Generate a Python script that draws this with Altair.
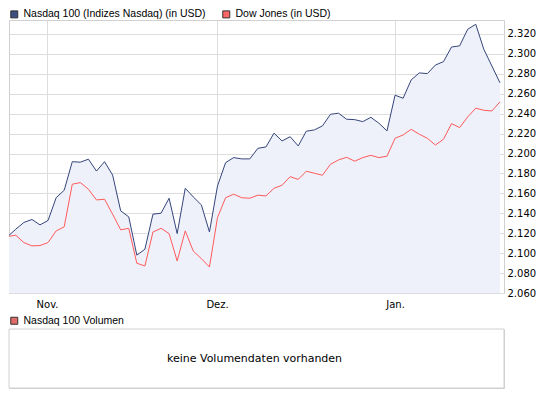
import json
import altair as alt
import pandas as pd

# Values (trading-day index 0..61)
nasdaq = [2116.7, 2124.0, 2130.8, 2133.8, 2128.4, 2132.8, 2155.6, 2163.1, 2191.8, 2191.3,
          2194.3, 2182.4, 2191.8, 2178.4, 2142.5, 2136.4, 2098.0, 2103.9, 2139.1, 2140.1,
          2155.1, 2119.6, 2165.1, 2156.4, 2148.4, 2121.3, 2167.5, 2190.8, 2195.9, 2194.6,
          2194.6, 2205.2, 2206.6, 2220.4, 2212.6, 2216.9, 2207.6, 2222.4, 2223.7, 2227.7,
          2239.4, 2240.4, 2234.4, 2234.0, 2232.0, 2236.3, 2230.4, 2222.7, 2258.5, 2255.5,
          2273.9, 2280.9, 2280.2, 2288.8, 2292.2, 2306.9, 2308.0, 2324.7, 2329.7, 2304.6,
          2287.8, 2271.0]
dow = [2116.7, 2118.0, 2110.6, 2107.3, 2107.6, 2110.6, 2122.3, 2126.4, 2169.2, 2170.8,
       2164.2, 2153.4, 2154.1, 2139.1, 2123.4, 2124.9, 2089.9, 2087.1, 2121.3, 2124.9,
       2119.6, 2092.1, 2122.3, 2102.0, 2094.5, 2086.1, 2135.8, 2155.6, 2159.2, 2155.6,
       2155.1, 2158.2, 2157.4, 2165.1, 2168.2, 2176.8, 2174.0, 2182.2, 2180.2, 2178.2,
       2189.2, 2193.6, 2196.2, 2192.3, 2195.9, 2198.2, 2195.9, 2197.3, 2215.3, 2218.6,
       2224.3, 2219.4, 2215.3, 2208.5, 2214.3, 2230.0, 2226.0, 2236.7, 2245.5, 2243.4,
       2242.7, 2251.8]

series_names = ["Nasdaq 100 (Indizes Nasdaq) (in USD)", "Dow Jones (in USD)"]
line_colors = ["#35457a", "#ff5a5a"]
legend_fills = ["#3d4f80", "#ff6666"]
month_pos = [4.87, 25.94, 48.0]
month_labels = ["Nov.", "Dez.", "Jan."]
y_ticks = list(range(2060, 2321, 20))
volume_name = "Nasdaq 100 Volumen"
volume_color = "#e06c68"
volume_msg = "keine Volumendaten vorhanden"

n = len(nasdaq)
idx = list(range(n))
wide = pd.DataFrame({"i": idx, "nasdaq": nasdaq})
long = pd.DataFrame({
    "i": idx + idx,
    "value": nasdaq + dow,
    "series": [series_names[0]] * n + [series_names[1]] * n,
})

x_scale = alt.Scale(domain=[0.16, 61.5], nice=False, zero=False)
y_scale = alt.Scale(domain=[2060, 2334], nice=False, zero=False)

x_axis = alt.Axis(
    values=month_pos, grid=True, gridColor="#dddddd", ticks=False, tickSize=0,
    domain=False, labelPadding=6, labelFont="DejaVu Sans", labelFontSize=10,
    labelColor="#000000", title=None, labelOverlap=False,
    labelExpr=f"{json.dumps(month_labels)}[indexof({json.dumps(month_pos)}, datum.value)]",
)
y_axis = alt.Axis(
    orient="right", values=y_ticks, grid=True, gridColor="#dddddd", ticks=False,
    tickSize=0, domain=False, labelPadding=3, labelFont="DejaVu Sans",
    labelFontSize=10, labelColor="#000000", title=None, labelOverlap=False,
    labelBound=False, labelExpr="replace(format(datum.value, ','), ',', '.')",
)

X = alt.X("i:Q", scale=x_scale, axis=x_axis)

area = alt.Chart(wide).mark_area(color="#eef1fa", clip=True).encode(
    x=X,
    y=alt.Y("nasdaq:Q", scale=y_scale, axis=y_axis),
)

lines = alt.Chart(long).mark_line(strokeWidth=1, clip=True).encode(
    x=X,
    y=alt.Y("value:Q", scale=y_scale, axis=y_axis),
    stroke=alt.Stroke("series:N", scale=alt.Scale(domain=series_names, range=line_colors), legend=None),
)

legend_top = alt.Legend(
    orient="none", legendX=0, legendY=-11, direction="horizontal", title=None,
    symbolType="square", symbolSize=49, symbolStrokeColor="#333333",
    symbolStrokeWidth=1, symbolOpacity=1, labelFont="Liberation Sans",
    labelFontSize=10.5, labelColor="#000000", columnPadding=14, labelOffset=4,
    padding=0, labelLimit=0,
)
dummy = alt.Chart(long).mark_square(opacity=0, clip=True).encode(
    x=X,
    y=alt.Y("value:Q", scale=y_scale, axis=y_axis),
    fill=alt.Fill("series:N", scale=alt.Scale(domain=series_names, range=legend_fills), legend=legend_top),
)

top = alt.layer(area, lines, dummy).properties(width=495, height=273)

vol = pd.DataFrame({"msg": [volume_msg], "series": [volume_name]})
frame = alt.Chart(vol).mark_rect(fill="#ffffff", stroke="#d0d0d0", strokeWidth=1).encode(
    x=alt.value(0), x2=alt.value("width"), y=alt.value(0), y2=alt.value("height")
)
msg = alt.Chart(vol).mark_text(font="DejaVu Sans", fontSize=11, color="#000000", dx=-2).encode(
    text="msg:N"
)
legend_bottom = alt.Legend(
    orient="none", legendX=0, legendY=-13.5, title=None, symbolType="square",
    symbolSize=49, symbolStrokeColor="#333333", symbolStrokeWidth=1,
    symbolOpacity=1, labelFont="Liberation Sans", labelFontSize=10.5,
    labelColor="#000000", labelOffset=4, padding=0, labelLimit=0,
)
vol_dummy = alt.Chart(vol).mark_square(opacity=0).encode(
    fill=alt.Fill("series:N", scale=alt.Scale(domain=[volume_name], range=[volume_color]), legend=legend_bottom)
)
bottom = alt.layer(frame, vol_dummy, msg).properties(width=495, height=59)

chart = alt.vconcat(top, bottom, spacing=5).resolve_scale(fill="independent").properties(
    padding=0, background="#ffffff"
).configure_view(stroke="#d0d0d0", strokeWidth=1)

chart.save("out.html", embed_options={"renderer": "svg", "actions": False})
